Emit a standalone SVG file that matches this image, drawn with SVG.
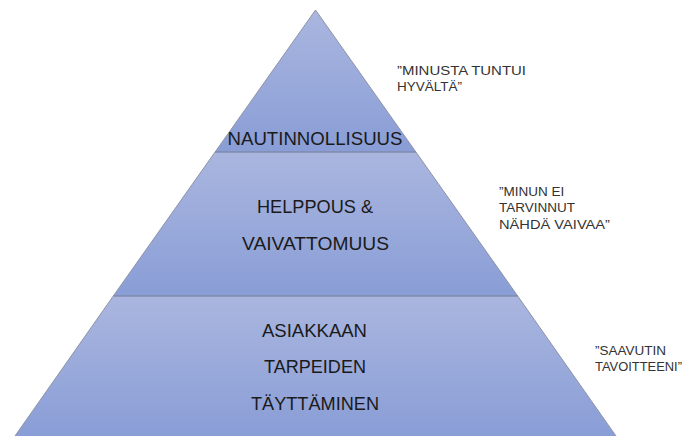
<svg xmlns="http://www.w3.org/2000/svg" width="685" height="436" viewBox="0 0 685 436">
<defs>
<linearGradient id="bandGrad" x1="0" y1="0" x2="0" y2="1">
<stop offset="0" stop-color="#aab6df"/>
<stop offset="1" stop-color="#899dd6"/>
</linearGradient>
<style>
.band{fill:url(#bandGrad);stroke:#8e93a8;stroke-width:1}
.sep{stroke:#7a88b4;stroke-width:1.2}
.main{font-family:"Liberation Sans",Arial,sans-serif;font-size:19px;fill:#1a1a1a;text-anchor:middle}
.side{font-family:"Liberation Sans",Arial,sans-serif;font-size:13.5px;fill:#333333}
</style>
</defs>
<rect width="685" height="436" fill="#ffffff"/>
<g id="band-top">
<polygon class="band" points="315.5,10 415.9,152 215.1,152"/>
<text class="main" x="315" y="145" textLength="175" lengthAdjust="spacingAndGlyphs">NAUTINNOLLISUUS</text>
</g>
<g id="band-middle">
<polygon class="band" points="215.1,152 415.9,152 517.7,296 113.3,296"/>
<text class="main" x="315" y="213" textLength="116" lengthAdjust="spacingAndGlyphs">HELPPOUS &amp;</text>
<text class="main" x="315.5" y="250" textLength="147" lengthAdjust="spacingAndGlyphs">VAIVATTOMUUS</text>
</g>
<g id="band-bottom">
<polygon class="band" points="113.3,296 517.7,296 616.7,437 14.3,437"/>
<text class="main" x="314.5" y="337" textLength="105" lengthAdjust="spacingAndGlyphs">ASIAKKAAN</text>
<text class="main" x="315" y="373" textLength="102" lengthAdjust="spacingAndGlyphs">TARPEIDEN</text>
<text class="main" x="315" y="410" textLength="128" lengthAdjust="spacingAndGlyphs">TÄYTTÄMINEN</text>
</g>
<g id="separators">
<line class="sep" x1="215.1" y1="152" x2="415.9" y2="152"/>
<line class="sep" x1="113.3" y1="296" x2="517.7" y2="296"/>
</g>
<g id="quote-top">
<text class="side" x="397" y="75" textLength="129" lengthAdjust="spacingAndGlyphs">”MINUSTA TUNTUI</text>
<text class="side" x="397" y="91">HYVÄLTÄ”</text>
</g>
<g id="quote-middle">
<text class="side" x="499" y="196">”MINUN EI</text>
<text class="side" x="499" y="212">TARVINNUT</text>
<text class="side" x="499" y="229" textLength="111" lengthAdjust="spacingAndGlyphs">NÄHDÄ VAIVAA”</text>
</g>
<g id="quote-bottom">
<text class="side" x="595" y="355">”SAAVUTIN</text>
<text class="side" x="595" y="371" textLength="87" lengthAdjust="spacingAndGlyphs">TAVOITTEENI”</text>
</g>
</svg>
